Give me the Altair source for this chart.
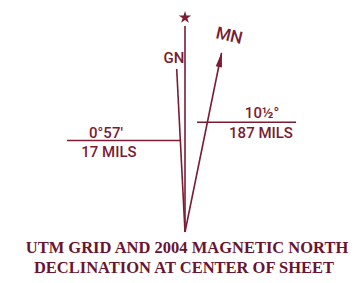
import altair as alt
import pandas as pd

# Diagram geometry (diagram units, y grows downward)
line_names = ["TN", "GN", "MN", "left_bar", "right_bar"]
line_x1 = [185, 185, 185, 67, 197]
line_y1 = [232, 232, 232, 140.5, 122.3]
line_x2 = [185, 176.7, 221.5, 180, 296]
line_y2 = [26, 69, 53, 140.5, 122.3]

label_texts = ["0°57′", "17 MILS", "10½°", "187 MILS", "GN"]
label_x = [106, 109, 262, 261, 174]
label_y = [137.5, 157, 118, 137.5, 63]

mn_text = ["MN"]
mn_x = [228]
mn_y = [41]

title_lines = ["UTM GRID AND 2004 MAGNETIC NORTH", "DECLINATION AT CENTER OF SHEET"]
title_x = [187, 184]
title_y = [253, 272.5]

star_x = [185]
star_y = [17.5]
arrow_x = [220.4]
arrow_y = [59.5]

COL = "#7a1c34"
TCOL = "#6a1430"
STAR = ("M0,-1L0.225,-0.309L0.951,-0.309L0.363,0.118L0.588,0.809L0,0.382"
        "L-0.588,0.809L-0.363,0.118L-0.951,-0.309L-0.225,-0.309Z")

xs = alt.Scale(domain=[8, 352], nice=False, zero=False)
ys = alt.Scale(domain=[8, 275], nice=False, zero=False, reverse=True)

X = alt.X("x:Q", scale=xs, axis=None)
Y = alt.Y("y:Q", scale=ys, axis=None)

lines_df = pd.DataFrame({"name": line_names, "x": line_x1, "y": line_y1,
                         "x2": line_x2, "y2": line_y2})
labels_df = pd.DataFrame({"t": label_texts, "x": label_x, "y": label_y})
mn_df = pd.DataFrame({"t": mn_text, "x": mn_x, "y": mn_y})
title_df = pd.DataFrame({"t": title_lines, "x": title_x, "y": title_y})
star_df = pd.DataFrame({"x": star_x, "y": star_y})
arrow_df = pd.DataFrame({"x": arrow_x, "y": arrow_y})

rules = alt.Chart(lines_df).mark_rule(color=COL, strokeWidth=1.6).encode(
    x=X, y=Y, x2="x2:Q", y2="y2:Q",
)

labels = alt.Chart(labels_df).mark_text(
    font="Roboto", fontSize=15, fontWeight=500, color=COL, align="center",
    baseline="alphabetic"
).encode(x=X, y=Y, text="t:N")

mn = alt.Chart(mn_df).mark_text(
    font="Roboto", fontSize=17, fontWeight=500, color=COL, align="center",
    baseline="alphabetic", angle=13
).encode(x=X, y=Y, text="t:N")

title = alt.Chart(title_df).mark_text(
    font="Liberation Serif", fontSize=16.5, fontWeight="bold", color=TCOL,
    align="center", baseline="alphabetic"
).encode(x=X, y=Y, text="t:N")

star = alt.Chart(star_df).mark_point(
    shape=STAR, filled=True, size=170, color=COL, opacity=1
).encode(x=X, y=Y)

arrow = alt.Chart(arrow_df).mark_point(
    shape="M0,-1L0.42,1L-0.42,1Z", filled=True, size=230, color=COL, opacity=1, angle=12
).encode(x=X, y=Y)

chart = alt.layer(rules, arrow, star, title, labels, mn).properties(
    width=344, height=267, padding=0, autosize=alt.AutoSizeParams(type="none"),
    background="white",
).configure_view(stroke=None)

chart.save("out.html", embed_options={"renderer": "svg", "actions": False})
